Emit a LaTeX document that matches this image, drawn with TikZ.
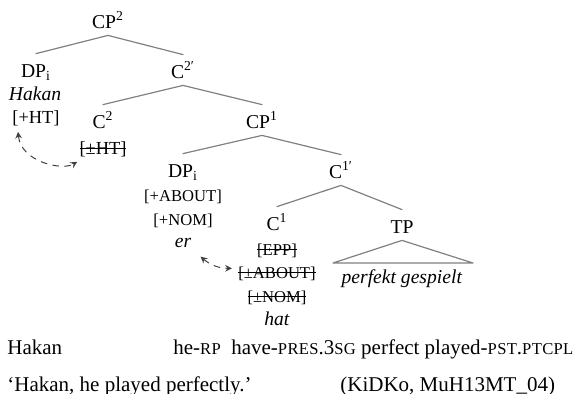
\documentclass[tikz,border=0pt]{standalone}
\usepackage{fontspec}
\setmainfont{Liberation Serif}
\newcommand{\glsc}[1]{{\fontsize{8.3}{9}\selectfont\addfontfeatures{LetterSpace=2}#1}}
\newcommand{\strk}[1]{\setbox0\hbox{#1}\rlap{\rule[0.3em]{\wd0}{0.45pt}}\box0}
\begin{document}
\begin{tikzpicture}[x=0.5pt, y=-0.5pt, font=\fontsize{9.8}{11}\selectfont, line join=round, line cap=round, >=stealth,
	cat/.style={anchor=base, inner sep=0pt, text height=11.5pt, text depth=3.5pt},
	word/.style={anchor=base, inner sep=0pt},
	feat/.style={word, font=\fontsize{8.3}{10}\selectfont},
	featbig/.style={word, font=\fontsize{9.2}{10}\selectfont},
	gloss/.style={anchor=base west, inner sep=0pt, font=\fontsize{10.5}{12}\selectfont},
	branch/.style={draw=black!50, line width=0.6pt},
	move/.style={<->, dashed, black!75, line width=0.5pt}]
		\useasboundingbox (0,0) rectangle (575,393);
		% tree
		\node[cat] (cp2) at (108,28) {CP\textsuperscript{2}};
		\node[cat] (dpa) at (36,77) {DP\textsubscript{i}};
		\node[word] (hakan) at (35,100) {\textit{Hakan}};
		\node[featbig] (htplus) at (36,123) {[+HT]};
		\node[cat] (cbar2) at (183,78) {C\textsuperscript{2′}};
		\node[cat] (c2) at (103,128) {C\textsuperscript{2}};
		\node[featbig] (htminus) at (103,154) {\strk{[±HT]}};
		\node[cat] (cp1) at (262,128) {CP\textsuperscript{1}};
		\node[cat] (dpb) at (183,177) {DP\textsubscript{i}};
		\node[feat] (aboutplus) at (183,201) {[+ABOUT]};
		\node[feat] (nomplus) at (183,225) {[+NOM]};
		\node[word] (er) at (183,247) {\textit{er}};
		\node[cat] (cbar1) at (341,178) {C\textsuperscript{1′}};
		\node[cat] (c1) at (277,230) {C\textsuperscript{1}};
		\node[feat] (epp) at (277,255) {\strk{[EPP]}};
		\node[feat] (aboutminus) at (277,278) {\strk{[±ABOUT]}};
		\node[feat] (nomminus) at (277,302) {\strk{[±NOM]}};
		\node[word] (hat) at (277,325) {\textit{hat}};
		\node[cat] (tp) at (402,233) {TP};
		\node[word] (perfekt) at (402,283) {\textit{perfekt gespielt}};
		\coordinate (tpl) at (333,263);
		\coordinate (tpr) at (473,263);
		\draw[branch] (dpa.north)--(cp2.south)--(cbar2.north);
		\draw[branch] (c2.north)--(cbar2.south)--(cp1.north);
		\draw[branch] (dpb.north)--(cp1.south)--(cbar1.north);
		\draw[branch] (c1.north)--(cbar1.south)--(tp.north);
		\draw[branch] (tp.south)--(tpl)--(tpr)--cycle;
		\draw[move] ([shift={(6,6)}]htplus.south west) .. controls +(3,30) and +(-15,9) .. ([shift={(-2,5)}]htminus.south west);
		\draw[move] ([shift={(9,9)}]er.south east) to[bend right=20] ([shift={(-6,-5)}]aboutminus.west);
		% gloss lines
		\node[gloss] (wordhakan) at (7,354) {Hakan};
		\node[gloss] (glosses) at (173,354) {he-\glsc{RP}\ \ have-\glsc{PRES}.3\glsc{SG} perfect played-\glsc{PST}.\glsc{PTCPL}};
		\node[gloss] (translation) at (7,391) {‘Hakan, he played perfectly.’};
		\node[gloss] (source) at (340,391) {(KiDKo, MuH13MT\_04)};
	\end{tikzpicture}
\end{document}
